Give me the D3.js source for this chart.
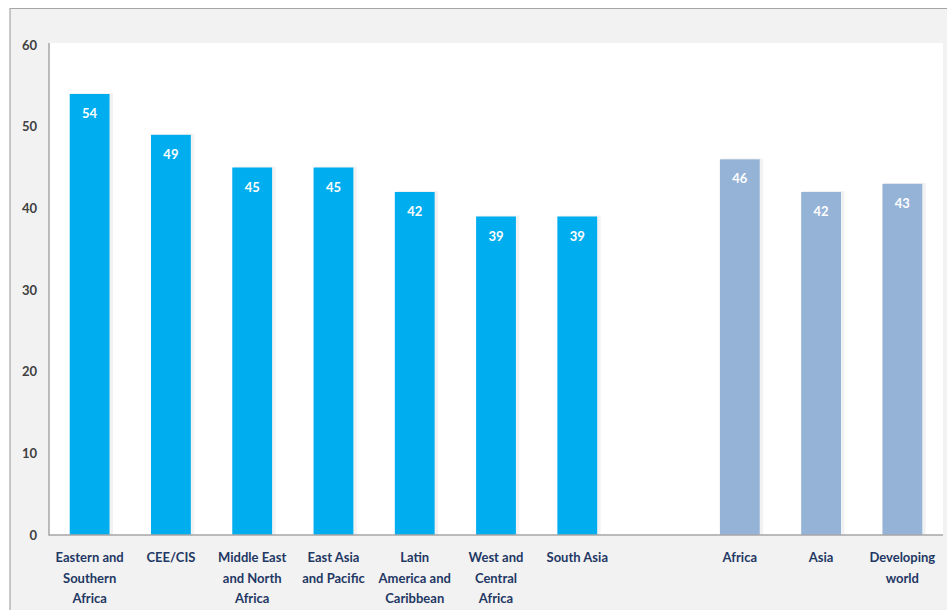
<!DOCTYPE html>
<html>
<head>
<meta charset="utf-8">
<script src="https://cdn.jsdelivr.net/npm/d3@7"></script>
<style>
  html, body { margin: 0; padding: 0; background: #ffffff; }
  svg { display: block; }
</style>
</head>
<body>
<svg id="chart" width="947" height="610"></svg>
<script>
// Regional values (percent)
const regions = ["Eastern and Southern Africa", "CEE/CIS", "Middle East and North Africa",
  "East Asia and Pacific", "Latin America and Caribbean", "West and Central Africa", "South Asia"];
const regionValues = [54, 49, 45, 45, 42, 39, 39];

// Aggregates
const aggregates = ["Africa", "Asia", "Developing world"];
const aggregateValues = [46, 42, 43];

// Wrapped label lines per category
const labelLines = {
  "Eastern and Southern Africa": ["Eastern and", "Southern", "Africa"],
  "CEE/CIS": ["CEE/CIS"],
  "Middle East and North Africa": ["Middle East", "and North", "Africa"],
  "East Asia and Pacific": ["East Asia", "and Pacific"],
  "Latin America and Caribbean": ["Latin", "America and", "Caribbean"],
  "West and Central Africa": ["West and", "Central", "Africa"],
  "South Asia": ["South Asia"],
  "Africa": ["Africa"],
  "Asia": ["Asia"],
  "Developing world": ["Developing", "world"]
};

const yTicks = [0, 10, 20, 30, 40, 50, 60];

const regionColor = "#00aeef";
const aggregateColor = "#95b3d7";

const data = regions.map((c, i) => ({ cat: c, value: regionValues[i], color: regionColor }))
  .concat(aggregates.map((c, i) => ({ cat: c, value: aggregateValues[i], color: aggregateColor })));

const svg = d3.select("#chart");
const W = 947, H = 610;

// Frame: light grey panel with a border on the top and left
svg.append("rect").attr("x", 10).attr("y", 8).attr("width", W - 10).attr("height", H - 8)
  .attr("fill", "#f2f2f2");
svg.append("path").attr("d", `M10,${H} V8.5 H${W}`).attr("fill", "none")
  .attr("stroke", "#a6a6a6").attr("stroke-width", 1.2);

const plot = { left: 49, right: 943, top: 43, bottom: 535 };

svg.append("rect").attr("x", plot.left).attr("y", plot.top)
  .attr("width", plot.right - plot.left).attr("height", plot.bottom - plot.top)
  .attr("fill", "#ffffff");

// Domain with an empty slot separating regions from aggregates
const domain = regions.concat(["__gap__"], aggregates);
const x = d3.scaleBand().domain(domain).range([plot.left, plot.right]).paddingInner(0.51).paddingOuter(0.255);
const y = d3.scaleLinear().domain([0, 60]).range([plot.bottom, plot.top + 2]);

// Soft bar shadows
svg.append("g").selectAll("rect").data(data).join("rect")
  .attr("x", d => x(d.cat) + 1.5)
  .attr("y", d => y(d.value) - 1)
  .attr("width", x.bandwidth() + 2)
  .attr("height", d => plot.bottom - y(d.value) + 1)
  .attr("fill", "#000").attr("opacity", 0.05);

// Bars
svg.append("g").selectAll("rect").data(data).join("rect")
  .attr("x", d => x(d.cat))
  .attr("y", d => y(d.value))
  .attr("width", x.bandwidth())
  .attr("height", d => plot.bottom - y(d.value))
  .attr("fill", d => d.color);

// Value labels inside bars
svg.append("g").selectAll("text").data(data).join("text")
  .attr("x", d => x(d.cat) + x.bandwidth() / 2)
  .attr("y", d => y(d.value) + 24)
  .attr("text-anchor", "middle")
  .attr("font-family", "Lato, 'Open Sans', sans-serif")
  .attr("font-weight", "bold")
  .attr("font-size", 13)
  .attr("fill", "#ffffff")
  .text(d => d.value);

// Axis lines
svg.append("path")
  .attr("d", `M${plot.left},${plot.top} V${plot.bottom} H${plot.right}`)
  .attr("fill", "none").attr("stroke", "#a6a6a6").attr("stroke-width", 1.5);

// Y axis tick labels
const yAxis = d3.axisLeft(y).tickValues(yTicks).tickSize(0).tickPadding(12);
const gy = svg.append("g").attr("transform", `translate(${plot.left},0)`).call(yAxis);
gy.select(".domain").remove();
gy.selectAll("text")
  .attr("font-family", "Lato, 'Open Sans', sans-serif")
  .attr("font-weight", "bold")
  .attr("font-size", 13)
  .attr("fill", "#404040");

// Category labels (wrapped)
const xl = svg.append("g").selectAll("text").data(data).join("text")
  .attr("x", d => x(d.cat) + x.bandwidth() / 2)
  .attr("y", 562)
  .attr("text-anchor", "middle")
  .attr("font-family", "Lato, 'Open Sans', sans-serif")
  .attr("font-weight", "bold")
  .attr("font-size", 13)
  .attr("fill", "#1f3864");
xl.each(function (d) {
  const t = d3.select(this);
  labelLines[d.cat].forEach((line, i) => {
    t.append("tspan").attr("x", x(d.cat) + x.bandwidth() / 2).attr("dy", i === 0 ? 0 : 20.5).text(line);
  });
});
</script>
</body>
</html>
